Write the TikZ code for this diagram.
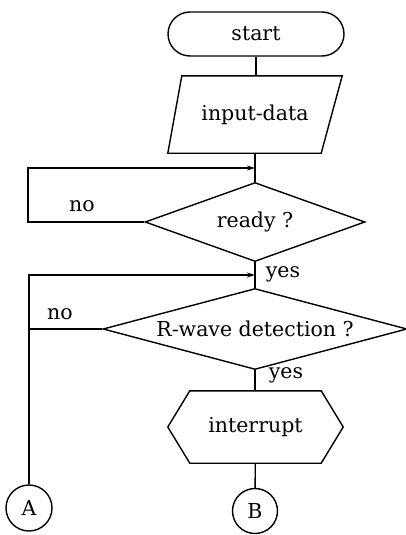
\documentclass[tikz,border=0pt]{standalone}
\usepackage{fontspec}
\setmainfont{DejaVu Serif}
\usetikzlibrary{shapes.geometric,arrows.meta}
\begin{document}
\begin{tikzpicture}[x=1pt,y=-1pt,
  every node/.style={font=\fontsize{20.5}{24}\selectfont},
  box/.style={draw,line width=1.4pt,inner sep=0pt},
  plain/.style={inner sep=0pt},
  line/.style={line width=1.4pt},
  arr/.style={line width=1.4pt,-{Stealth[length=8pt,width=5pt]}},
  lbl/.style={inner sep=0pt}]
\useasboundingbox (0,0) rectangle (405,535);
\node[box,rounded corners=22pt,minimum width=176pt,minimum height=44pt] (start) at (256,34) {start};
\node[plain,minimum width=174pt,minimum height=77pt] (input) at (255,114.5) {input-data};
\draw[line,line join=miter] (input.south west) -- ([xshift=14pt]input.north west) -- (input.north east)
  -- ([xshift=-21pt]input.south east) -- cycle;
\node[box,diamond,aspect=3.75,minimum width=220pt,minimum height=79pt] (ready) at (255,222) {ready ?};
\node[box,diamond,aspect=3.75,minimum width=304pt,minimum height=81pt] (rwave) at (255,329) {R-wave detection ?};
\node[plain,minimum width=175pt,minimum height=72pt] (intr) at (255.5,427) {interrupt};
\draw[line] (intr.west) -- ([xshift=22pt]intr.north west) -- ([xshift=-22pt]intr.north east)
  -- (intr.east) -- ([xshift=-22pt]intr.south east) -- ([xshift=22pt]intr.south west) -- cycle;
\node[box,circle,minimum size=46pt] (A) at (29,508) {A};
\node[box,circle,minimum size=45pt] (B) at (255,511) {B};
\coordinate (j1) at (255,168);
\coordinate (j2) at (255,275);
\coordinate (l1) at (28,168);
\draw[line] (start) -- (start |- input.north);
\draw[line] (input) -- (ready);
\draw[arr] (ready.west) -| (l1) -- (j1);
\draw[line] (ready) -- (rwave);
\draw[arr] (A) |- (j2);
\draw[line] (rwave.west) -- (rwave.west -| A);
\draw[line] (rwave) -- (rwave |- intr.north);
\draw[line] (intr) -- (B);
\node[lbl] (no1) at (82,206) {no};
\node[lbl] (no2) at (60,314) {no};
\node[lbl] (yes1) at (283,274) {yes};
\node[lbl] (yes2) at (286,375) {yes};
\end{tikzpicture}
\end{document}
